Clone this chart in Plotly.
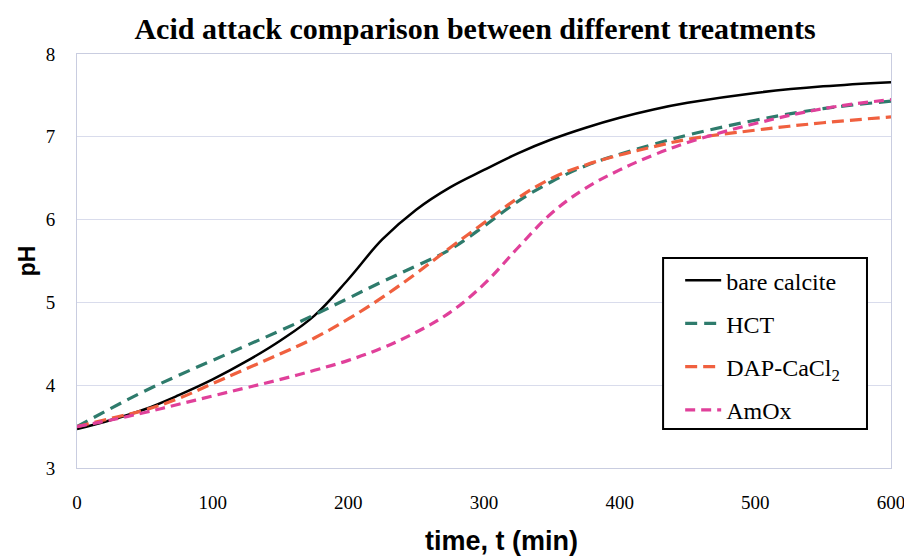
import plotly.graph_objects as go

time_min = [0, 25, 50, 75, 100, 125, 150, 175, 200, 225, 250, 275, 300, 325, 350, 375, 400, 425, 450, 500, 550, 600]

bare_calcite = [3.47, 3.58, 3.71, 3.88, 4.07, 4.29, 4.54, 4.84, 5.28, 5.76, 6.12, 6.39, 6.60, 6.80, 6.97, 7.11, 7.23, 7.33, 7.41, 7.53, 7.61, 7.66]
hct = [3.50, 3.72, 3.93, 4.12, 4.30, 4.48, 4.66, 4.85, 5.05, 5.25, 5.44, 5.64, 5.92, 6.22, 6.46, 6.65, 6.79, 6.91, 7.02, 7.20, 7.34, 7.43]
dap_cacl2 = [3.50, 3.60, 3.70, 3.84, 4.02, 4.20, 4.38, 4.57, 4.80, 5.06, 5.35, 5.66, 5.96, 6.26, 6.50, 6.66, 6.78, 6.88, 6.97, 7.08, 7.17, 7.24]
amox = [3.50, 3.58, 3.67, 3.77, 3.87, 3.97, 4.07, 4.18, 4.30, 4.45, 4.64, 4.88, 5.22, 5.66, 6.08, 6.38, 6.60, 6.78, 6.93, 7.16, 7.34, 7.45]

series_names = ["bare calcite", "HCT", "DAP-CaCl<sub>2</sub>", "AmOx"]
series_values = [bare_calcite, hct, dap_cacl2, amox]
series_colors = ["#000000", "#2e7b6c", "#f0603f", "#e0409a"]
series_dash = ["solid", "12px,7px", "12px,6px", "10px,6px"]

x_ticks = [0, 100, 200, 300, 400, 500, 600]
y_ticks = [3, 4, 5, 6, 7, 8]

fig = go.Figure()
for i, (name, vals, col, dash) in enumerate(zip(series_names, series_values, series_colors, series_dash)):
    fig.add_trace(go.Scatter(
        x=time_min, y=vals, name=name, mode="lines",
        line=dict(color=col, width=2.5 if dash == "solid" else 3.2, dash=dash, shape="spline", smoothing=1.1),
        legendgroup=f"g{i}",
    ))

# legend frame (white box with black border)
fig.add_shape(type="rect", xref="paper", yref="paper", x0=0.72, x1=0.9705, y0=0.094, y1=0.507,
              line=dict(color="black", width=2), fillcolor="white", layer="above")

serif = "Liberation Serif, DejaVu Serif, serif"
sans = "Liberation Sans, Arial, sans-serif"

# x-axis title (placed as annotation, slightly right of centre like the reference)
fig.add_annotation(text="<b>time, t (min)</b>", xref="paper", yref="paper", x=0.522, y=-0.176,
                   xanchor="center", yanchor="middle", showarrow=False,
                   font=dict(family=sans, size=27, color="black"))

fig.update_layout(
    width=904, height=549,
    margin=dict(l=69, r=21, t=46, b=89),
    paper_bgcolor="white", plot_bgcolor="white",
    title=dict(text="<b>Acid attack comparison between different treatments</b>",
               font=dict(family=serif, size=30, color="black"),
               x=0.489, xanchor="center", xref="paper", y=0.962, yanchor="middle", yref="container"),
    showlegend=True,
    legend=dict(x=0.741, y=0.507, xanchor="left", yanchor="top",
                bgcolor="rgba(0,0,0,0)", borderwidth=0,
                font=dict(family=serif, size=24, color="black"),
                tracegroupgap=9, traceorder="grouped",
                itemwidth=36),
    xaxis=dict(range=[0, 600], tickvals=x_ticks, ticks="", showgrid=False, zeroline=False,
               showline=True, linecolor="#c9cde0", linewidth=1, mirror=True, automargin=False,
               tickfont=dict(family=serif, size=19, color="black"), ticklabelstandoff=17),
    yaxis=dict(range=[3, 8], tickvals=y_ticks, ticks="", showgrid=True, gridcolor="#d9dcec", gridwidth=1,
               zeroline=False, showline=True, linecolor="#c9cde0", linewidth=1, mirror=True, automargin=False,
               tickfont=dict(family=serif, size=19, color="black"), ticklabelstandoff=17,
               title=dict(text="<b>pH</b>",
                          font=dict(family=sans, size=23, color="black"),
                          standoff=3)),
)

fig.write_html("out.html")
